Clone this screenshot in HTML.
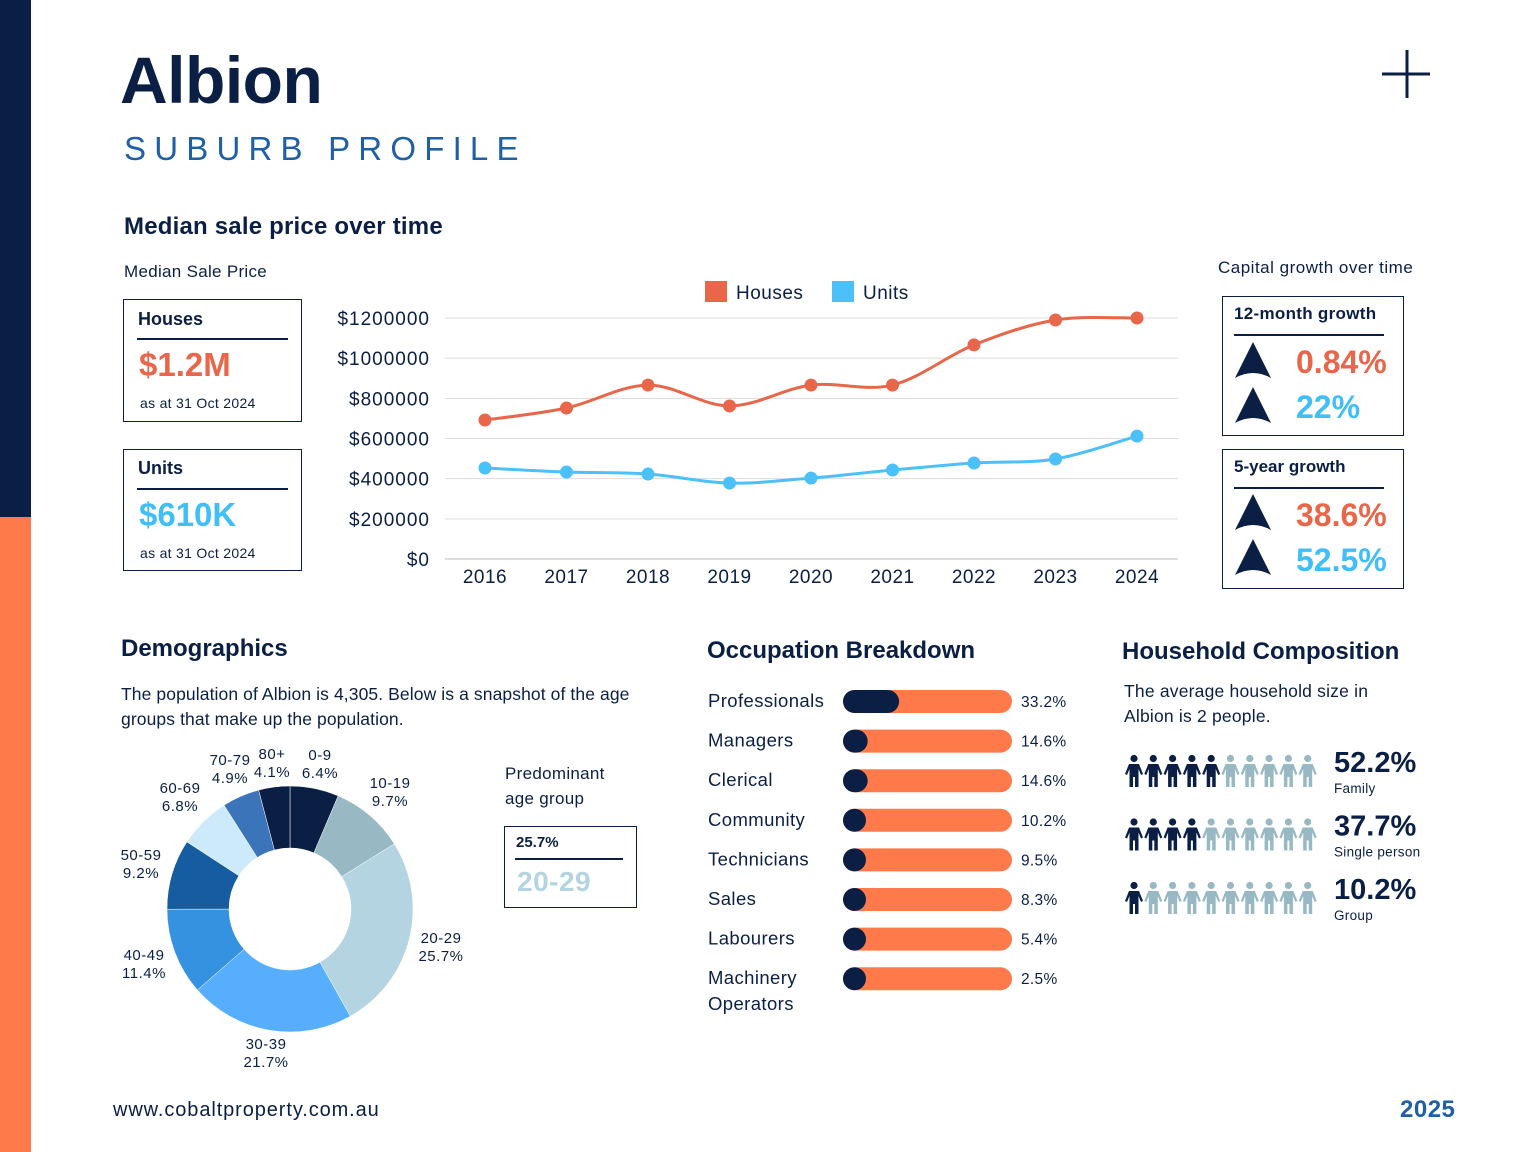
<!DOCTYPE html>
<html><head><meta charset="utf-8"><style>
*{margin:0;padding:0;box-sizing:border-box}
body{width:1536px;height:1152px;position:relative;background:#fff;font-family:"Liberation Sans",sans-serif;color:#0b1f44;overflow:hidden}
.a{position:absolute;white-space:nowrap}
.box{position:absolute;border:1.5px solid #0b1f44}
.hr{position:absolute;height:1.5px;background:#0b1f44}
</style></head><body>
<div class="a" style="left:0;top:0;width:31px;height:517px;background:#0b1f44"></div>
<div class="a" style="left:0;top:517px;width:31px;height:635px;background:#ff7a4a"></div>
<div class="a" style="left:120px;top:42px;font-size:66px;font-weight:bold;letter-spacing:-0.5px">Albion</div>
<div class="a" style="left:124px;top:130px;font-size:33px;letter-spacing:8.2px;color:#1f5fa6">SUBURB PROFILE</div>
<svg class="a" style="left:1380px;top:48px" width="54" height="54"><path d="M27 2V50M2 26H50" stroke="#0b1f44" stroke-width="3"/></svg>

<div class="a" style="left:124px;top:213px;font-size:24px;font-weight:bold;letter-spacing:0.2px">Median sale price over time</div>
<div class="a" style="left:124px;top:262px;font-size:17px;letter-spacing:0.3px">Median Sale Price</div>
<div class="box" style="left:123px;top:299px;width:179px;height:123px"></div>
<div class="a" style="left:138px;top:309px;font-size:18px;font-weight:bold">Houses</div>
<div class="hr" style="left:137px;top:338px;width:151px"></div>
<div class="a" style="left:139px;top:346px;font-size:33px;font-weight:bold;color:#e8674a">$1.2M</div>
<div class="a" style="left:140px;top:395px;font-size:14px;letter-spacing:0.3px">as at 31 Oct 2024</div>
<div class="box" style="left:123px;top:449px;width:179px;height:122px"></div>
<div class="a" style="left:138px;top:458px;font-size:18px;font-weight:bold">Units</div>
<div class="hr" style="left:137px;top:488px;width:151px"></div>
<div class="a" style="left:139px;top:496px;font-size:33px;font-weight:bold;color:#3fbff8">$610K</div>
<div class="a" style="left:140px;top:545px;font-size:14px;letter-spacing:0.3px">as at 31 Oct 2024</div>

<svg class="a" id="line" style="left:0;top:0" width="1536" height="620"></svg>

<div class="a" style="left:1218px;top:258px;font-size:17px;letter-spacing:0.5px">Capital growth over time</div>
<div class="box" style="left:1222px;top:296px;width:182px;height:140px"></div>
<div class="a" style="left:1234px;top:304px;font-size:17px;font-weight:bold;letter-spacing:0.3px">12-month growth</div>
<div class="hr" style="left:1234px;top:334px;width:150px"></div>
<svg class="a" style="left:1234px;top:342px" width="38" height="38"><path d="M19 0L37 36Q19 26 1 36Z" fill="#0b1f44"/></svg>
<div class="a" style="left:1296px;top:344px;font-size:32px;font-weight:bold;color:#e8674a">0.84%</div>
<svg class="a" style="left:1234px;top:387px" width="38" height="38"><path d="M19 0L37 36Q19 26 1 36Z" fill="#0b1f44"/></svg>
<div class="a" style="left:1296px;top:389px;font-size:32px;font-weight:bold;color:#3fbff8">22%</div>
<div class="box" style="left:1222px;top:449px;width:182px;height:140px"></div>
<div class="a" style="left:1234px;top:457px;font-size:17px;font-weight:bold">5-year growth</div>
<div class="hr" style="left:1234px;top:487px;width:150px"></div>
<svg class="a" style="left:1234px;top:494px" width="38" height="38"><path d="M19 0L37 36Q19 26 1 36Z" fill="#0b1f44"/></svg>
<div class="a" style="left:1296px;top:497px;font-size:32px;font-weight:bold;color:#e8674a">38.6%</div>
<svg class="a" style="left:1234px;top:539px" width="38" height="38"><path d="M19 0L37 36Q19 26 1 36Z" fill="#0b1f44"/></svg>
<div class="a" style="left:1296px;top:542px;font-size:32px;font-weight:bold;color:#3fbff8">52.5%</div>

<div class="a" style="left:121px;top:635px;font-size:24px;font-weight:bold">Demographics</div>
<div class="a" style="left:121px;top:682px;font-size:17.5px;line-height:25px;white-space:normal;width:560px;letter-spacing:0.1px">The population of Albion is 4,305. Below is a snapshot of the age groups that make up the population.</div>
<svg class="a" id="donut" style="left:0;top:720px" width="520" height="380"></svg>
<div class="a" style="left:505px;top:761px;font-size:17px;line-height:25px;letter-spacing:0.3px">Predominant<br>age group</div>
<div class="box" style="left:504px;top:826px;width:133px;height:82px"></div>
<div class="a" style="left:516px;top:834px;font-size:15px;font-weight:bold">25.7%</div>
<div class="hr" style="left:515px;top:858px;width:108px"></div>
<div class="a" style="left:517px;top:866px;font-size:28px;font-weight:bold;color:#b3d4e0;letter-spacing:0.5px">20-29</div>

<div class="a" style="left:707px;top:637px;font-size:24px;font-weight:bold">Occupation Breakdown</div>
<svg class="a" id="occ" style="left:0;top:680px" width="1100" height="350"></svg>

<div class="a" style="left:1122px;top:638px;font-size:24px;font-weight:bold">Household Composition</div>
<div class="a" style="left:1124px;top:679px;font-size:17.5px;line-height:25px;letter-spacing:0.2px">The average household size in<br>Albion is 2 people.</div>
<svg class="a" id="people" style="left:1120px;top:740px" width="320" height="190"></svg>

<div class="a" style="left:113px;top:1099px;font-size:20px;letter-spacing:0.9px">www.cobaltproperty.com.au</div>
<div class="a" style="left:1400px;top:1096px;font-size:24px;font-weight:bold;color:#1f5fa6;letter-spacing:0.5px">2025</div>

<script>
const NS='http://www.w3.org/2000/svg';
function mk(p,t,a){const e=document.createElementNS(NS,t);for(const k in a)e.setAttribute(k,a[k]);p.appendChild(e);return e;}

/* line chart data */
const years=['2016','2017','2018','2019','2020','2021','2022','2023','2024'];
const houses=[692000,752000,866000,762000,866000,866000,1066000,1190000,1200000];
const units=[453000,433000,423000,378000,403000,443000,478000,498000,612000];
const yTicks=[0,200000,400000,600000,800000,1000000,1200000];

const L=document.getElementById('line');
const xS=i=>485+i*81.5;
const yS=v=>559-v*(241/1200000);
yTicks.forEach(t=>{
  const g=mk(L,'line',{x1:445,x2:1178,y1:yS(t),y2:yS(t),stroke:t===0?'#bbb':'#ddd','stroke-width':1});
  
  const tx=mk(L,'text',{x:430,y:yS(t)+7,'text-anchor':'end','font-size':19,fill:'#0b1f44','letter-spacing':1});
  tx.textContent='$'+t;
  
});
years.forEach((y,i)=>{
  const tx=mk(L,'text',{x:xS(i),y:583,'text-anchor':'middle','font-size':19,fill:'#0b1f44','letter-spacing':0.5});
  tx.textContent=y;
  
});
function smooth(pts){
  let d='M'+pts[0][0]+' '+pts[0][1];
  for(let i=0;i<pts.length-1;i++){
    const p0=pts[i-1]||pts[i],p1=pts[i],p2=pts[i+1],p3=pts[i+2]||p2;
    const c1=[p1[0]+(p2[0]-p0[0])/6,p1[1]+(p2[1]-p0[1])/6];
    const c2=[p2[0]-(p3[0]-p1[0])/6,p2[1]-(p3[1]-p1[1])/6];
    d+=' C'+c1+' '+c2+' '+p2;
  }
  return d;
}
[[houses,'#e8674a','houses'],[units,'#4cc0f8','units']].forEach(([arr,c,n])=>{
  const pts=arr.map((v,i)=>[xS(i),yS(v)]);
  const p=mk(L,'path',{d:smooth(pts),fill:'none',stroke:c,'stroke-width':3});
  
  pts.forEach(q=>{
    const ci=mk(L,'circle',{cx:q[0],cy:q[1],r:6.5,fill:c});
    
  });
});
[['Houses','#e8674a',705],['Units','#4cc0f8',832]].forEach(([t,c,x])=>{
  const r=mk(L,'rect',{x:x,y:281,width:22,height:21,fill:c});
  
  const tx=mk(L,'text',{x:x+31,y:299,'font-size':19,fill:'#0b1f44','letter-spacing':0.5});tx.textContent=t;
  
});

/* donut data */
const ageGroups=['0-9','10-19','20-29','30-39','40-49','50-59','60-69','70-79','80+'];
const agePct=[6.4,9.7,25.7,21.7,11.4,9.2,6.8,4.9,4.1];
const ageColors=['#0b1f44','#98b8c4','#b3d4e0','#56aefc','#3592e0','#155ca0','#cdeafb','#3b74b8','#0b1f44'];
const D=document.getElementById('donut');
const cx=290,cy=189,R=123,r0=61;
const total=agePct.reduce((a,b)=>a+b,0);
let acc=0;
const labelPos=[[320,40],[390,68],[441,223],[266,329],[144,240],[141,140],[180,73],[230,45],[272,39]];
agePct.forEach((v,i)=>{
  const a0=acc/total*2*Math.PI,a1=(acc+v)/total*2*Math.PI;acc+=v;
  const P=(a,rr)=>[cx+rr*Math.sin(a),cy-rr*Math.cos(a)];
  const [x0,y0]=P(a0,R),[x1,y1]=P(a1,R),[x2,y2]=P(a1,r0),[x3,y3]=P(a0,r0);
  const lg=(a1-a0)>Math.PI?1:0;
  const p=mk(D,'path',{d:`M${x0} ${y0}A${R} ${R} 0 ${lg} 1 ${x1} ${y1}L${x2} ${y2}A${r0} ${r0} 0 ${lg} 0 ${x3} ${y3}Z`,fill:ageColors[i],stroke:'#fff','stroke-width':0.5});
  
  const [lx,ly]=labelPos[i];
  const t=mk(D,'text',{x:lx,y:ly,'text-anchor':'middle','font-size':15,fill:'#0b1f44','letter-spacing':0.5});
  const s1=mk(t,'tspan',{x:lx,dy:0});s1.textContent=ageGroups[i];
  const s2=mk(t,'tspan',{x:lx,dy:18});s2.textContent=v+'%';
  
});

/* occupation data */
const occNames=['Professionals','Managers','Clerical','Community','Technicians','Sales','Labourers','Machinery'];
const occPct=[33.2,14.6,14.6,10.2,9.5,8.3,5.4,2.5];
const O=document.getElementById('occ');
occPct.forEach((v,i)=>{
  const y=21+i*39.6;
  const t=mk(O,'text',{x:708,y:y+6,'font-size':18.5,fill:'#0b1f44','letter-spacing':0.4});t.textContent=occNames[i];
  
  if(i===7){const t2=mk(O,'text',{x:708,y:y+32,'font-size':18.5,fill:'#0b1f44','letter-spacing':0.4});t2.textContent='Operators';
    }
  const tr=mk(O,'rect',{x:843,y:y-11,width:169,height:23,rx:11.5,fill:'#ff7a4a'});
  
  const w=Math.max(23,v*1.69);
  const f=mk(O,'rect',{x:843,y:y-11,width:w,height:23,rx:11.5,fill:'#0b1f44'});
  
  const pv=mk(O,'text',{x:1021,y:y+6,'font-size':15.5,fill:'#0b1f44','letter-spacing':0.3});pv.textContent=v+'%';
  
});

/* household data */
const hhLabels=['Family','Single person','Group'];
const hhPct=[52.2,37.7,10.2];
const hhDark=[5,4,1];
const P=document.getElementById('people');
hhPct.forEach((v,row)=>{
  const y0=15+row*63.5;
  for(let k=0;k<10;k++){
    const x=14+k*19.3;
    const c=k<hhDark[row]?'#0b1f44':'#98b8c4';
    const g=mk(P,'g',{fill:c});
    
    mk(g,'circle',{cx:x,cy:y0+3.5,r:3.6});
    mk(g,'path',{d:`M${x-5} ${y0+9}H${x+5}L${x+9} ${y0+19}L${x+7} ${y0+20}L${x+4.5} ${y0+14}V${y0+32}H${x+1}V${y0+22}H${x-1}V${y0+32}H${x-4.5}V${y0+14}L${x-7} ${y0+20}L${x-9} ${y0+19}Z`});
  }
  const t=mk(P,'text',{x:214,y:y0+17,'font-size':29,'font-weight':'bold',fill:'#0b1f44'});t.textContent=v+'%';
  
  const l=mk(P,'text',{x:214,y:y0+38,'font-size':13.5,fill:'#0b1f44','letter-spacing':0.3});l.textContent=hhLabels[row];
  
});
</script>
</body></html>
